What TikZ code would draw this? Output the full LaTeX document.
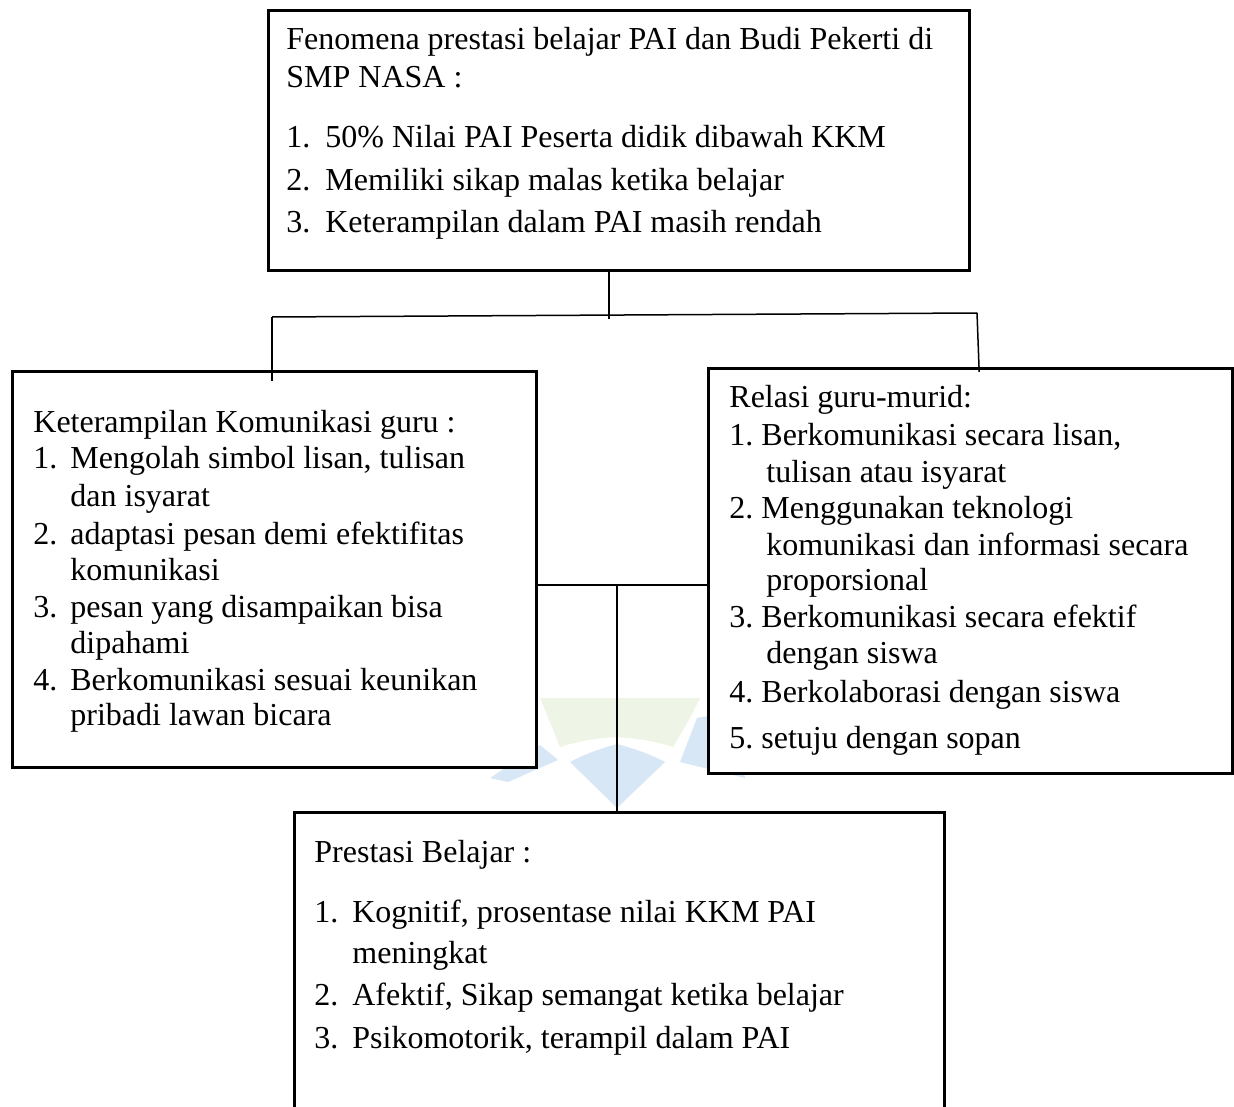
\documentclass[tikz,border=0pt]{standalone}
\usepackage{fontspec}
\setmainfont{Liberation Serif}
\newcommand\numlbl[2]{\makebox[#1][l]{#2}}
\definecolor{wmgreen}{RGB}{238,245,230}
\definecolor{wmblue}{RGB}{216,231,245}
\begin{document}
\begin{tikzpicture}[x=0.5pt,y=-0.5pt,
  box/.style={draw, line width=1.5pt, fill=white, anchor=north west, inner sep=0pt},
  txt/.style={anchor=base west, inner sep=0pt, font=\fontsize{16}{18.4}\selectfont},
  link/.style={line width=0.75pt},
  wmg/.style={fill=wmgreen, draw=none},
  wmb/.style={fill=wmblue, draw=none}]
\clip (0,0) rectangle (1234,1106);
\fill[white] (0,0) rectangle (1234,1106);
% faint watermark
\fill[wmg] (540,698) -- (617,698) -- (617,737) .. controls (595,738) and (575,742) .. (560,747) .. controls (553,730) and (546,712) .. cycle;
\fill[wmg] (617,698) -- (700,698) .. controls (692,715) and (682,732) .. (673,747) .. controls (658,742) and (642,739) .. (627,738) -- (617,737) -- cycle;
\fill[wmb] (617,744) .. controls (632,748) and (650,754) .. (665,762) -- (617,808) -- (570,762) .. controls (585,754) and (602,748) .. cycle;
\fill[wmb] (490,778) -- (540,745) -- (558,760) -- (508,782) -- cycle;
\fill[wmb] (697,718) -- (730,712) -- (745,778) -- (680,762) -- cycle;
% boxes
\node[box, minimum width=350.5pt, minimum height=130pt] (top) at (267,9) {};
\node[box, minimum width=262pt, minimum height=198pt] (left) at (11,370) {};
\node[box, minimum width=262pt, minimum height=202.5pt] (right) at (707,367) {};
\node[box, minimum width=325pt, minimum height=160pt] (bottom) at (293,811) {};
% connectors
\coordinate (ja) at (609,319);
\coordinate (jl) at (272,317);
\coordinate (jr) at (977,313);
\coordinate (m) at (617,585);
\draw[link] (top.south -| ja) -- (ja);
\draw[link] (jl) -- (jr);
\draw[link] (jl) -- (jl |- left.north) -- ++(0,11);
\draw[link] (jr) -- (right.north -| 979,0) -- ++(0,5);
\draw[link] (left.east |- m) -- (right.west |- m);
\draw[link] (m) -- (bottom.north -| m) -- ++(0,2);
% top box text
\node[txt] (t0) at (286,50) {Fenomena prestasi belajar PAI dan Budi Pekerti di};
\node[txt] (t1) at (286,88) {SMP NASA :};
\node[txt] (t2) at (286,148) {\numlbl{19.5pt}{1.}50\% Nilai PAI Peserta didik dibawah KKM};
\node[txt] (t3) at (286,191) {\numlbl{19.5pt}{2.}Memiliki sikap malas ketika belajar};
\node[txt] (t4) at (286,233) {\numlbl{19.5pt}{3.}Keterampilan dalam PAI masih rendah};
% left box text
\node[txt] (l0) at (33,432) {Keterampilan Komunikasi guru :};
\node[txt] (l1) at (33,468) {\numlbl{18.5pt}{1.}Mengolah simbol lisan, tulisan};
\node[txt] (l2) at (70,506) {dan isyarat};
\node[txt] (l3) at (33,544) {\numlbl{18.5pt}{2.}adaptasi pesan demi efektifitas};
\node[txt] (l4) at (70,580) {komunikasi};
\node[txt] (l5) at (33,617) {\numlbl{18.5pt}{3.}pesan yang disampaikan bisa};
\node[txt] (l6) at (70,653) {dipahami};
\node[txt] (l7) at (33,690) {\numlbl{18.5pt}{4.}Berkomunikasi sesuai keunikan};
\node[txt] (l8) at (70,725) {pribadi lawan bicara};
% right box text
\node[txt] (r0) at (729,408) {Relasi guru-murid:};
\node[txt] (r1) at (729,445) {\numlbl{16pt}{1.}Berkomunikasi secara lisan,};
\node[txt] (r2) at (766,482) {tulisan atau isyarat};
\node[txt] (r3) at (729,518) {\numlbl{16pt}{2.}Menggunakan teknologi};
\node[txt] (r4) at (766,555) {komunikasi dan informasi secara};
\node[txt] (r5) at (766,590) {proporsional};
\node[txt] (r6) at (729,627) {\numlbl{16pt}{3.}Berkomunikasi secara efektif};
\node[txt] (r7) at (766,663) {dengan siswa};
\node[txt] (r8) at (729,702) {\numlbl{16pt}{4.}Berkolaborasi dengan siswa};
\node[txt] (r9) at (729,748) {\numlbl{16pt}{5.}setuju dengan sopan};
% bottom box text
\node[txt] (b0) at (314,862) {Prestasi Belajar :};
\node[txt] (b1) at (314,922) {\numlbl{19pt}{1.}Kognitif, prosentase nilai KKM PAI};
\node[txt] (b2) at (352,963) {meningkat};
\node[txt] (b3) at (314,1005) {\numlbl{19pt}{2.}Afektif, Sikap semangat ketika belajar};
\node[txt] (b4) at (314,1048) {\numlbl{19pt}{3.}Psikomotorik, terampil dalam PAI};
\end{tikzpicture}
\end{document}
